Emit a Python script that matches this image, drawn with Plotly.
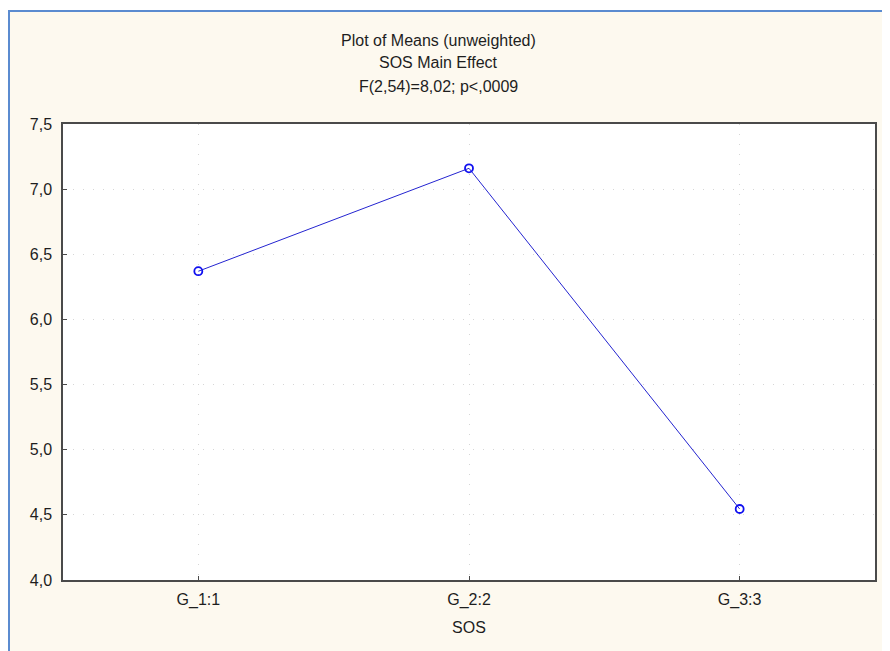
import plotly.graph_objects as go

categories = ["G_1:1", "G_2:2", "G_3:3"]
means = [6.37, 7.16, 4.545]
y_ticks = [4.0, 4.5, 5.0, 5.5, 6.0, 6.5, 7.0, 7.5]

# page body has 8px offset; plot area target in window px: x 63..875, y 124..580
OFF = 8
L, R, T, B = 63, 875, 124, 580
W, H = 890 - OFF, 651 - OFF

def px(x):
    return (x - L) / (R - L)

def py(y):
    return (B - y) / (B - T)

fig = go.Figure()
fig.add_trace(go.Scatter(
    x=list(range(len(categories))), y=means, mode="lines+markers",
    line=dict(color="#2424D0", width=1),
    marker=dict(symbol="circle-open", size=8, color="#1010F0", line=dict(width=1.8, color="#1010F0")),
    showlegend=False, hoverinfo="skip"))

font = dict(family="Liberation Sans, Arial, sans-serif", size=16, color="#1E1E1E")

grid = dict(showgrid=True, gridcolor="#D6D6D6", griddash="1px,9px", gridwidth=1)

fig.update_layout(
    width=W, height=H,
    margin=dict(l=L - OFF, r=890 - R, t=T - OFF, b=651 - B),
    paper_bgcolor="white", plot_bgcolor="white",
    separators=", ",
    font=font,
    xaxis=dict(range=[-0.5, 2.5], tickvals=list(range(len(categories))), ticktext=categories,
               showline=True, linecolor="#4A4A4A", linewidth=1.5, mirror=True,
               ticks="inside", ticklen=4, tickcolor="#4A4A4A", ticklabelstandoff=4,
               zeroline=False, title=dict(text="SOS", standoff=14, font=font), **grid),
    yaxis=dict(range=[4.0, 7.5], tickvals=y_ticks, tickformat=".1f",
               showline=True, linecolor="#4A4A4A", linewidth=1.5, mirror=True,
               ticks="inside", ticklen=4, tickcolor="#4A4A4A", ticklabelstandoff=6,
               zeroline=False, **grid),
    shapes=[dict(type="rect", xref="paper", yref="paper",
                 x0=px(9), x1=px(900), y0=py(660), y1=py(11),
                 fillcolor="#FDF9EF", line=dict(color="#5B8BD0", width=2), layer="below"),
            dict(type="rect", xref="paper", yref="paper", x0=0, x1=1, y0=0, y1=1,
                 fillcolor="white", line=dict(width=0), layer="below")],
    annotations=[
        dict(text="Plot of Means (unweighted)", xref="paper", yref="paper", x=px(438.5), y=py(40),
             xanchor="center", yanchor="middle", showarrow=False, font=font),
        dict(text="SOS Main Effect", xref="paper", yref="paper", x=px(438.5), y=py(63),
             xanchor="center", yanchor="middle", showarrow=False, font=font),
        dict(text="F(2,54)=8,02; p<,0009", xref="paper", yref="paper", x=px(438.5), y=py(87),
             xanchor="center", yanchor="middle", showarrow=False, font=font),
    ],
)

fig.write_html("out.html")
